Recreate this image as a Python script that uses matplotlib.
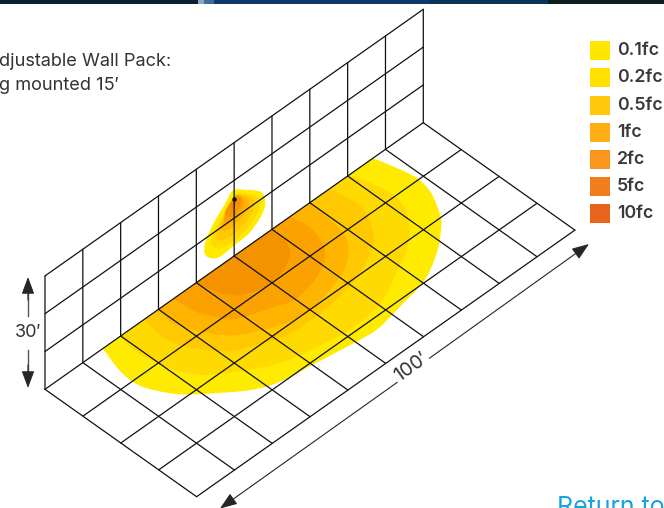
import numpy as np
import matplotlib
matplotlib.use("Agg")
import matplotlib.pyplot as plt
from matplotlib.path import Path
from matplotlib.patches import PathPatch, Rectangle

plt.rcParams['font.family'] = ['Inter', 'DejaVu Sans']

# ---- data (feet) ----
legend_labels = ['0.1fc', '0.2fc', '0.5fc', '1fc', '2fc', '5fc', '10fc']
legend_colors = ['#FFE600', '#FFE000', '#FFC80A', '#FFAE14', '#FA961E', '#F07D1E', '#E8641E']
level_colors = ['#FFEB00', '#FFDA00', '#FFC800', '#FFB500', '#FBA200', '#F59200', '#EF8A00', '#E87800']

length_ticks = np.arange(0, 101, 10)
depth_ticks = np.arange(0, 41, 10)
height_ticks = np.arange(0, 31, 10)

floor1_x = [15.3, 13.4, 13.1, 14.5, 17.3, 22.3, 26.5, 30.5, 35.0, 39.9, 49.4, 55.4, 62.4, 70.0, 74.5, 78.6, 82.0, 84.6, 87.8, 88.8, 88.1, 86.7]
floor1_y = [0, 6.3, 11.0, 14.9, 19.1, 23.5, 26.8, 28.9, 30.0, 30.6, 32.0, 32.5, 31.3, 29.8, 27.8, 25.3, 22.6, 20.0, 14.4, 9.8, 5.3, 0]
floor2_x = [19.8, 19.1, 19.9, 20.9, 23.2, 26.1, 31.4, 37.4, 44.6, 51.2, 59.4, 63.9, 68.8, 73.8, 78.0, 81.7, 82.5, 81.7, 80.5]
floor2_y = [0, 5.1, 10.2, 13.8, 17.6, 20.1, 23.6, 26.5, 28.0, 29.0, 28.4, 26.8, 24.2, 21.7, 18.4, 13.4, 8.6, 4.1, 0]
floor3_x = [26.1, 25.4, 25.9, 27.7, 29.9, 32.2, 38.0, 42.4, 50.5, 55.5, 60.9, 65.8, 70.7, 73.1, 75.8, 76.0, 75.2]
floor3_y = [0, 5.4, 8.8, 12.4, 15.3, 17.6, 20.3, 21.8, 22.1, 21.5, 20.6, 18.7, 16.1, 13.5, 8.8, 4.6, 0]
floor4_x = [29.9, 29.3, 31.1, 35.0, 41.9, 46.8, 52.0, 57.6, 62.2, 66.2, 68.5, 69.6, 70.2]
floor4_y = [0, 4.3, 9.0, 14.7, 18.5, 19.9, 19.8, 18.6, 17.0, 14.1, 10.8, 5.7, 0]
floor5_x = [33.9, 34.5, 35.9, 38.3, 45.6, 49.5, 54.0, 58.3, 62.1, 64.0, 65.4, 64.7]
floor5_y = [0, 5.5, 8.4, 11.9, 14.7, 16.1, 15.6, 14.3, 11.9, 9.4, 4.6, 0]
floor6_x = [40.0, 40.9, 43.0, 46.5, 50.2, 54.2, 57.8, 59.7, 60.2]
floor6_y = [0, 4.4, 7.7, 9.4, 10.0, 9.0, 7.0, 3.9, 0]

wall1_x = [49.7, 53.1, 57.2, 58.2, 57.0, 53.9, 50.0, 46.1, 43.4, 42.1, 42.5, 44.7, 47.4]
wall1_z = [17.5, 15.3, 11.8, 8.0, 5.4, 3.2, 2.8, 2.5, 4.2, 6.6, 9.4, 12.7, 15.3]
wall2_x = [50.2, 53.7, 56.4, 56.8, 54.6, 51.1, 47.1, 44.5, 44.0, 45.8, 48.5]
wall2_z = [16.3, 13.8, 11.1, 8.2, 5.3, 4.2, 4.4, 6.4, 8.4, 11.6, 14.5]
wall3_x = [50.2, 53.3, 55.2, 54.6, 51.5, 48.0, 45.4, 45.8, 47.6, 48.9]
wall3_z = [15.6, 13.8, 11.0, 7.9, 6.2, 6.0, 7.8, 10.2, 12.9, 15.1]
wall4_x = [50.5, 52.9, 54.0, 52.4, 49.3, 46.7, 47.1, 48.5]
wall4_z = [15.7, 13.4, 11.0, 9.1, 8.0, 9.1, 11.5, 13.6]
wall5_x = [50.5, 52.2, 52.4, 50.7, 48.0, 47.3, 48.2]
wall5_z = [15.7, 13.6, 11.3, 9.8, 10.1, 11.8, 13.8]
wall6_x = [50.7, 51.8, 51.1, 49.3, 47.6, 48.2]
wall6_z = [15.1, 13.5, 11.7, 11.0, 12.4, 14.2]
wall7_x = [50.2, 51.0, 50.2, 49.0, 49.0]
wall7_z = [15.4, 14.0, 13.0, 13.2, 14.5]
fixture_x, fixture_z = 50, 15

floor_contours = [(floor1_x, floor1_y), (floor2_x, floor2_y), (floor3_x, floor3_y),
                  (floor4_x, floor4_y), (floor5_x, floor5_y), (floor6_x, floor6_y)]
wall_contours = [(wall1_x, wall1_z), (wall2_x, wall2_z), (wall3_x, wall3_z), (wall4_x, wall4_z),
                 (wall5_x, wall5_z), (wall6_x, wall6_z), (wall7_x, wall7_z)]

# ---- projection ----
OX, OY = 45.0, 389.3
def proj(x, y=0.0, z=0.0):
    x, y, z = np.asarray(x, float), np.asarray(y, float), np.asarray(z, float)
    return OX + 3.783 * x + 3.79 * y, OY - 2.666 * x + 2.685 * y - 3.78 * z


def smooth_path(px, py, closed):
    pts = np.column_stack([px, py])
    n = len(pts)
    verts, codes = [pts[0]], [Path.MOVETO]
    idx = range(n) if closed else range(n - 1)
    for i in idx:
        if closed:
            p0, p1, p2, p3 = pts[(i - 1) % n], pts[i], pts[(i + 1) % n], pts[(i + 2) % n]
        else:
            p0, p1, p2, p3 = pts[max(i - 1, 0)], pts[i], pts[i + 1], pts[min(i + 2, n - 1)]
        verts += [p1 + (p2 - p0) / 6, p2 - (p3 - p1) / 6, p2]
        codes += [Path.CURVE4] * 3
    verts.append(pts[0])
    codes.append(Path.CLOSEPOLY)
    return Path(verts, codes)


fig = plt.figure(figsize=(6.64, 5.08), dpi=100)
ax = fig.add_axes([0, 0, 1, 1])
ax.set_xlim(0, 664)
ax.set_ylim(508, 0)
ax.axis('off')

# top photo strip
strip_edges = [0, 198, 204, 214, 430, 548, 664]
strip_colors = ['#0A1F33', '#8FA6BC', '#3F6C92', '#0A3A66', '#0B3358', '#0B1D1E']
for a, b, c in zip(strip_edges[:-1], strip_edges[1:], strip_colors):
    ax.add_patch(Rectangle((a, 0), b - a, 4, fc=c, ec='none', zorder=1))

# light distribution
for (cx, cy), col in zip(floor_contours, level_colors):
    px, py = proj(cx, cy)
    ax.add_patch(PathPatch(smooth_path(px, py, False), fc=col, ec='none', zorder=2))
for (cx, cz), col in zip(wall_contours, level_colors):
    px, py = proj(cx, 0, cz)
    ax.add_patch(PathPatch(smooth_path(px, py, True), fc=col, ec='none', zorder=2))

# grid
grid = dict(color='#111111', lw=0.9, zorder=3, snap=False, solid_capstyle='round')
for x in length_ticks:
    px, py = proj([x, x], [0, depth_ticks[-1]])
    ax.plot(px, py, **grid)
    px, py = proj([x, x], 0, [0, height_ticks[-1]])
    ax.plot(px, py, **grid)
for y in depth_ticks:
    px, py = proj([0, length_ticks[-1]], [y, y])
    ax.plot(px, py, **grid)
for z in height_ticks[1:]:
    px, py = proj([0, length_ticks[-1]], 0, [z, z])
    ax.plot(px, py, **grid)
fx, fy = proj(fixture_x, 0, fixture_z)
ax.plot([fx], [fy], 'o', ms=2.2, color='#111111', zorder=4)

# dimension arrows
ac = '#262626'
def arrow(p_from, p_to):
    ax.annotate('', xy=p_to, xytext=p_from, zorder=4, annotation_clip=False,
                arrowprops=dict(arrowstyle='-|>,head_length=0.75,head_width=0.28', mutation_scale=14,
                                color=ac, lw=0.8, shrinkA=0, shrinkB=0))

ax.plot([28, 28], [290, 316], color='#555555', lw=1.0, zorder=4)
ax.plot([28, 28], [350, 375], color='#555555', lw=1.0, zorder=4)
arrow((28, 300), (28, 277))
arrow((28, 365), (28, 388))
ax.text(28.5, 332.5, '30′', ha='center', va='center', fontsize=13, color='#333333', zorder=5)

arrow((429.3, 358.3), (589, 244))
arrow((397.3, 382.3), (220, 508.5))
ax.text(411.5, 367, '100′', ha='center', va='center', rotation=35.5, rotation_mode='anchor',
        fontsize=14, color='#333333', zorder=5)

# caption, clipped by the left edge
ax.text(-1, 61, 'djustable Wall Pack:', ha='left', va='center', fontsize=13.1, color='#333333')
ax.text(-1, 85, 'g mounted 15′', ha='left', va='center', fontsize=13.1, color='#333333')

# legend
sw_top = [41, 68, 96, 123, 150, 177, 204]
for t, lab, col in zip(sw_top, legend_labels, legend_colors):
    ax.add_patch(Rectangle((590, t), 20, 19, fc=col, ec='none', zorder=2))
    ax.text(617, t + 9.5, lab, ha='left', va='center', fontsize=12.8, fontweight='semibold', color='#3a3a3a')

# link
ax.text(557, 514, 'Return to', ha='left', va='baseline', fontsize=18, color='#16A3E0', clip_on=True)

fig.savefig('out.png', dpi=100)
